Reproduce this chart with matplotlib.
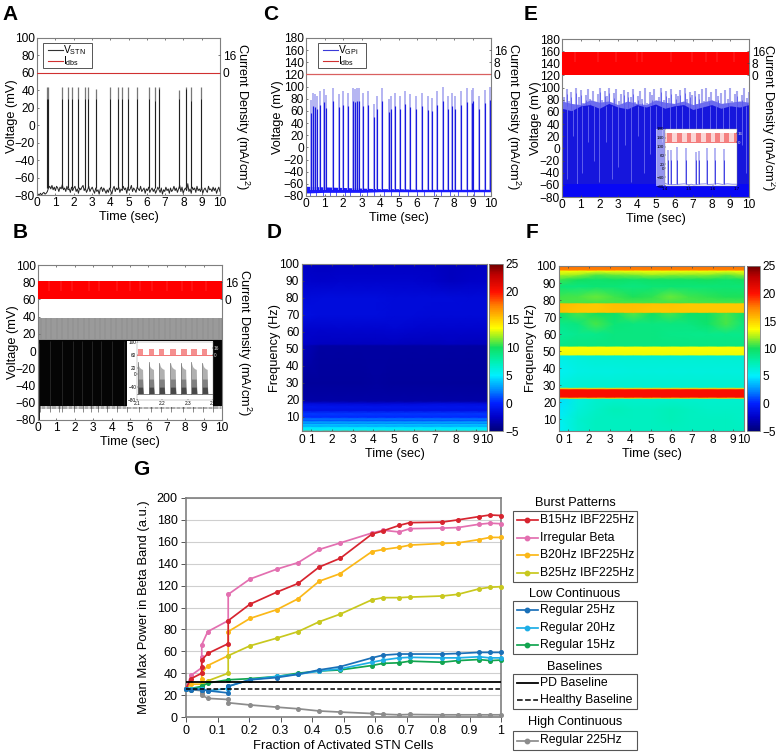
import numpy as np
import matplotlib
matplotlib.use("Agg")
import matplotlib.pyplot as plt
from matplotlib.colors import LinearSegmentedColormap
from matplotlib.lines import Line2D

plt.rcParams['font.family'] = ['Liberation Sans', 'DejaVu Sans']
plt.rcParams['mathtext.default'] = 'regular'

W, H = 776, 754

# ---------- panel A
a_spike_t = [.55, .58, 1.38, 1.67, 1.93, 2.24, 2.64, 2.78, 3.2, 4.0, 4.45, 4.67, 4.95, 5.49, 6.1, 6.44, 6.64, 7.78, 8.15, 8.4, 8.95]
a_spike_v = [44, 44, 44, 44, 44, 44, 44, 44, 42, 44, 44, 44, 44, 44, 44, 44, 44, 40, 44, 44, 44]
a_spike_core = [30, 30, 30, 30, 30, 30, 30, 30, 30, 30, 30, 30, 30, 30, 30, 28, 42, 30, 42, 28, 30]
a_base = [-80, -79, -80, -78, -80, -78, -77, -79, -78, -76, -72, -70, -73, -69, -74, -71, -75, -70, -72, -76, -71, -73, -68,
          -74, -72, -76, -70, -74, -73, -77, -71, -75, -72, -70, -76, -73, -78, -72, -74, -71, -69, -75, -72, -77, -74, -70,
          -76, -73, -71, -75, -78, -72, -76, -74, -79, -73, -71, -76, -72, -75, -78, -74, -77, -72, -75, -79, -73, -70, -76,
          -72, -74, -71, -77, -73, -75, -70, -74, -72, -78, -71, -75, -73, -69, -76, -72, -74, -77, -71, -73, -75, -70, -76,
          -74, -72, -78, -73, -75, -71, -77, -74, -72, -76, -73, -78, -75, -71, -74, -77, -72, -79, -74, -76, -71, -75, -73,
          -78, -72, -76, -74, -70, -75, -72, -77, -73, -69, -76, -71, -78, -74, -72, -75, -67, -76, -73, -78, -71, -74, -72,
          -77, -70, -75, -73, -76, -71, -78, -74, -72, -75, -77, -70, -74, -73, -76, -71, -75, -72, -78, -74, -71, -76]

# ---------- panel B
b_flick_t = [.65, 1.3, 1.9, 2.4, 2.95, 3.4, 4.0, 4.7, 5.6, 6.1, 6.65, 7.2, 7.9, 8.3, 8.9, 9.4]
b_low_t = [.1, .65, 1.15, 1.32, 1.95, 2.45, 2.9, 3.25, 3.75, 4.3, 4.85, 5.5, 6.15, 6.7, 7.25, 7.9, 8.4, 8.95, 9.5]
b_red_gap_t = [.62, 1.25, 1.85, 2.75, 3.3, 4.3, 5.0, 5.55, 6.2, 7.0, 7.8, 8.35, 9.15]
b_train_t = [i * .0667 for i in range(150)]
b_inset_burst_t = [2.103, 2.146, 2.188, 2.232, 2.273, 2.315, 2.358]
b_inset_top = [38, 37, 36, 35, 36, 37, 36]
b_burst_offs = [0, .002, .004, .007, .010, .013, .016, .019, .021]
b_burst_hi = [36, 30, 25, 21, 19, 17, 16, 15, -58]
b_burst_mid = [-15, -15, -15, -15, -15, -15, -15, -15, -58]
b_burst_dark = [-40, -40, -40, -40, -40, -40, -40, -40, -58]
b_inset_pulse_w = [.022, .021, .019, .023, .023, .020, .020]

# ---------- panel C
c_spike_t = [.25, .40, .49, .58, .76, .97, 1.06, 1.47, 1.78, 2.0, 2.28, 2.52, 2.64, 2.73, 2.88, 3.06, 3.33, 3.68, 3.86, 4.09, 4.5, 4.58,
             4.81, 5.08, 5.35, 5.62, 5.93, 6.25, 6.58, 6.83, 7.1, 7.42, 7.69, 7.87, 8.05, 8.38, 8.68, 8.95, 9.05, 9.35, 9.68, 9.95]
c_spike_v = [78, 90, 88, 85, 92, 96, 87, 98, 88, 92, 90, 98, 96, 98, 98, 90, 92, 72, 85, 98, 80, 85,
             90, 85, 93, 88, 85, 90, 84, 82, 92, 99, 85, 90, 85, 92, 97, 95, 98, 85, 95, 100]
c_band_t = [0, 1, 2, 3, 4, 5, 6, 7, 8, 9, 10]
c_band_lo = [-75, -74, -74, -74, -73, -73, -73, -73, -73, -73, -73]
c_band_hi = [-64, -65, -66, -67, -68, -68, -69, -69, -69, -69, -69]
c_floor_t = [.2, .55, .9, 1.3, 1.6, 2.1, 2.4, 2.9, 3.3, 3.7, 4.2, 4.6, 5.0, 5.5, 6.0, 6.4, 6.9, 7.3, 7.8, 8.2, 8.7, 9.1, 9.6]

# ---------- panel E
e_top = [92, 85, 97, 78, 93, 70, 99, 84, 96, 75, 88, 98, 82, 94, 72, 90, 100, 80, 95, 86, 99, 73, 91, 97, 78, 89, 96, 71, 93, 85, 98, 76,
         87, 95, 82, 99, 74, 92, 88, 97, 70, 85, 100, 79, 94, 83, 98, 72, 90, 86, 96, 75, 99, 81, 92, 88, 95, 73, 90, 97, 78, 100, 84,
         93, 76, 98, 87, 91, 72, 96, 82, 99, 78, 90, 95, 74, 88, 100, 83, 92]
e_mid_t = [0, .5, 1, 1.5, 2, 2.5, 3, 3.5, 4, 4.5, 5, 5.5, 6, 6.5, 7, 7.5, 8, 8.5, 9, 9.5, 10]
e_mid = [66, 62, 70, 72, 66, 74, 68, 65, 72, 68, 73, 66, 70, 72, 64, 68, 72, 66, 70, 68, 72]
e_fill = [78, 74, 72, 80, 76, 78, 72, 78, 74, 72, 80, 76, 74, 78, 72, 76, 80, 74, 76, 78, 76]
e_streak_t = [.25, .6, .8, 1.05, 1.4, 1.7, 2.0, 2.35, 2.7, 3.0, 3.35, 3.7, 4.05, 4.4, 4.7, 5.0, 5.35, 5.75, 6.1, 6.4, 6.8, 7.15, 7.5, 7.9, 8.25, 8.6, 8.95, 9.3, 9.6, 9.85]
e_streak_lo = [-50, 20, -58, -40, 10, -20, -55, 10, -50, -30, 5, -55, 20, -40, -10, -50, 10, -30, -55, 15, -45, 0, -50, -20, -55, 10, -35, -50, 5, -40]
e_flick_t = [.7, 1.9, 2.9, 4.0, 4.3, 5.85, 6.95, 7.7, 8.3, 9.2]
e_inset_spike_t = [1.414, 1.425, 1.448, 1.488, 1.529, 1.541, 1.573, 1.608, 1.647]
e_inset_spike_v = [85, 85, 100, 95, 75, 80, 95, 95, 90]
e_inset_base_t = [1.40, 1.41, 1.43, 1.46, 1.48, 1.50, 1.51, 1.52, 1.55, 1.57, 1.58, 1.60, 1.62, 1.64, 1.66, 1.68, 1.70]
e_inset_base = [-68, -72, -74, -72, -70, -74, -72, -75, -71, -70, -73, -72, -69, -73, -70, -72, -72]
e_inset_pulse_t = [1.408, 1.449, 1.490, 1.531, 1.572, 1.609, 1.647, 1.688]
e_inset_pulse_w = [.02, .02, .02, .02, .02, .02, .02, .012]

# ---------- spectrograms
spec_t = [.55, 1.45, 2.35, 3.25, 4.15, 5.05, 5.95, 6.85, 7.75, 8.65, 9.52]
d_f = [1.75, 2.0, 2.3, 4, 4.8, 5.6, 6.4, 7.2, 8, 9, 10, 12, 14, 16, 18, 19.5, 30, 52, 53, 62, 70, 80, 90, 100]
d_z = [[18] * 11, [18] * 11, [5.2] * 11, [4.8] * 11, [3.0] * 11, [4.2] * 11, [2.2] * 11, [3.2] * 11,
       [1.2] * 11, [2.0] * 11, [0.2] * 11, [0.6] * 11, [-1.2] * 11, [-0.8] * 11,
       [-1.6, -1.7, -1.8, -1.8, -1.9, -1.8, -1.8, -1.6, -1.5, -1.6, -1.7],
       [-3.5] * 11,
       [-3.9, -3.9, -3.9, -3.9, -3.8, -3.9, -3.9, -3.9, -3.9, -3.9, -3.9],
       [-2.8, -3.6, -3.6, -3.7, -3.7, -3.7, -3.7, -3.7, -3.7, -3.7, -3.7],
       [-2.4, -2.7, -2.7, -2.7, -2.7, -2.7, -2.8, -2.8, -2.7, -2.8, -2.8],
       [-2.2, -2.2, -2.1, -2.1, -2.1, -2.0, -2.1, -2.2, -2.2, -2.2, -2.2],
       [-1.3, -1.6, -1.5, -1.6, -1.6, -1.7, -1.7, -1.8, -1.8, -1.8, -1.8],
       [-1.7, -1.6, -1.6, -1.5, -1.6, -1.7, -1.7, -1.7, -1.7, -1.8, -1.8],
       [-2.2, -2.4, -2.2, -2.3, -2.2, -2.3, -2.3, -2.4, -2.7, -2.5, -2.4],
       [-2.5, -2.7, -2.6, -2.6, -2.6, -2.6, -2.6, -2.6, -2.8, -2.7, -2.6]]

f_f = [3.15, 10, 16, 22, 22.6, 23.2, 27.6, 28.2, 29, 38, 47.4, 48, 52.6, 53.2, 60, 66, 72.4, 73, 78, 78.6, 82, 88, 92, 95, 97.3, 97.8, 100]
f_z = [[5.2, 6.4, 7, 7, 7, 7, 7, 7, 7, 7, 7],
       [5.4, 6.5, 7, 7, 7, 7, 7.2, 7, 7, 7, 6.8],
       [4.8, 6.2, 6.8, 7.2, 7, 7, 7.2, 7, 6.8, 6.8, 6.8],
       [4.5, 6, 6.5, 6.6, 6.5, 6.5, 6.5, 6.5, 6.5, 6.5, 6.5],
       [15] * 11,
       [20.3] * 11, [20.3] * 11,
       [15] * 11,
       [6.2, 6.4, 6.6, 6.6, 6.6, 6.6, 6.6, 6.6, 6.6, 6.6, 6.6],
       [5.4, 5.8, 6, 6, 6.1, 6.1, 6.1, 6.1, 6.1, 6.1, 6.1],
       [5.8, 6.2, 6.4, 6.4, 6.4, 6.4, 6.4, 6.4, 6.4, 6.4, 6.4],
       [13.2] * 11, [13.4] * 11,
       [8.8, 9, 9, 9, 9, 9, 9, 9, 9, 9, 9],
       [8.2, 8.5, 8.6, 9, 9, 9, 8.8, 8.6, 8.6, 8.6, 8.6],
       [8.6, 9, 10.8, 9.2, 9, 9, 9, 9, 9.6, 10.8, 9],
       [9.8, 10.8, 10, 9.8, 11, 10, 10.8, 9.8, 9.8, 10.8, 9.8],
       [15.6, 15.2, 15.2, 15.4, 15.4, 15.2, 15.2, 15.2, 15.2, 15.2, 15.2],
       [15.8, 15.4, 15.2, 15.6, 15.6, 15.4, 15.4, 15.2, 15.2, 15.2, 15.2],
       [10.8] * 11,
       [10.6, 10.8, 11.2, 10.6, 10.2, 10.4, 11.2, 10.6, 10.4, 10.2, 10.2],
       [9.2, 9, 9.4, 9.2, 9, 9.2, 9.4, 9.2, 9.2, 9.4, 9.2],
       [10.6, 10, 9.6, 9.8, 9.6, 9.8, 9.8, 9.8, 10, 9.6, 10],
       [12.4, 12, 11, 11.4, 11.6, 12, 11.8, 11.8, 11.8, 11.2, 12],
       [13.4] * 11,
       [17.4] * 11, [17.8] * 11]

cmap_vals = [-5, -2.5, 0, 2.5, 5, 7.5, 10, 12, 13.5, 15, 17.5, 20, 23, 25]
cmap_cols = ['#00007a', '#0000c8', '#0020ff', '#0090ff', '#00f0ff', '#00f0b0', '#10e060',
             '#a0f020', '#ffff00', '#ffd000', '#ff8000', '#ff1000', '#c00000', '#700000']

# ---------- panel G
g_frac = [0, .016, .05, .05, .05, .069, .134, .134, .203, .288, .356, .423, .49, .59, .626, .677, .711, .813, .863, .93, .965, 1]
g_b15 = [26, 35, 40, 46, 52, 58, 67, 88, 103, 114, 122, 137, 145, 167, 170, 175, 177.5, 178, 180, 183, 184.5, 184]
g_irr = [26, 38, 45, 55, 66, 78, 88, 112, 126, 135, 141, 153, 159, 168, 170.5, 169, 172, 172.5, 173, 176, 177, 176.5]
g_b20 = [26, 30, 30, 35, 40, 47, 56, 78, 90, 98, 108, 124, 131, 151, 153, 155, 157, 158.5, 159, 162, 164, 164]
g_b25 = [26, 25, 27, 28, 30, 33, 40, 56, 65, 72, 78, 87, 94, 107, 109, 109, 109.5, 110.5, 112, 117, 118.5, 119]
g_r25 = [26, 25, 25, 25, 25, 24, 22, 28, 34, 36, 39, 43, 46, 54, 56.5, 57.5, 57.5, 57.5, 58, 59, 59, 59]
g_r20 = [26, 26, 26, 26, 26, 24, 26, 28, 34, 37, 39, 42, 44, 50, 52, 54, 54.5, 54, 54, 55, 54, 54]
g_r15 = [26, 26, 28, 28, 28, 31, 34, 34, 35, 37, 40, 42, 43, 47, 49, 49.5, 51, 50, 51.5, 52.5, 51.5, 52]
g_r225 = [26, 25, 24, 22, 20, 17, 16, 13, 11, 9, 7.5, 5.5, 4.5, 3.2, 2.5, 2, 2.3, 2, 2, 2, 2, 2]
g_pd = 32
g_healthy = 26

time_ticks = list(range(0, 11))
RED = '#ff0000'
BLUE = '#1a1ae0'
LBLUE = '#a8a8f0'
GRAY = '#7f7f7f'

fig = plt.figure(figsize=(W / 100, H / 100), dpi=100)


def ax_px(l, t, r, b):
    return fig.add_axes([l / W, 1 - b / H, (r - l) / W, (b - t) / H])


def style(ax, ymin, ymax, ystep, xt=time_ticks, fs=8.6, tl=1.5):
    ax.set_xlim(0, 10)
    ax.set_ylim(ymin, ymax)
    ax.set_xticks(xt)
    ax.set_yticks(range(ymin, ymax + 1, ystep))
    ax.tick_params(direction='in', length=tl, width=.5, labelsize=fs, pad=1.5, top=True, color='#444444')
    for s in ax.spines.values():
        s.set_color(GRAY)
        s.set_linewidth(.8)


def current_axis(ax, ylim, ticks, pad=11, fs=8.6):
    tw = ax.twinx()
    tw.set_ylim(*ylim)
    tw.set_yticks(ticks)
    tw.tick_params(direction='in', length=1.5, width=.5, labelsize=fs, pad=2, color='#444444')
    for s in tw.spines.values():
        s.set_visible(False)
    tw.set_ylabel('Current Density (mA/cm$^2$)', rotation=270, fontsize=9.2, labelpad=pad)
    return tw


def labels(ax, pad):
    ax.set_xlabel('Time (sec)', fontsize=9.2, labelpad=1.5)
    ax.set_ylabel('Voltage (mV)', fontsize=9.2, labelpad=pad)


def trace_legend(name, col, l, t, r, b):
    fig.add_artist(plt.Rectangle((l / W, 1 - b / H), (r - l) / W, (b - t) / H, transform=fig.transFigure,
                                 fc='white', ec='#555555', lw=.7, zorder=3))
    for y, c, txt in [(t + 7, col, name), (t + 18, '#d03030', '$I_{dbs}$')]:
        fig.add_artist(Line2D([(l + 5) / W, (l + 20) / W], [1 - y / H, 1 - y / H], transform=fig.transFigure,
                              color=c, lw=.8, zorder=4))
        fig.text((l + 20) / W, 1 - y / H, txt, fontsize=7.4, va='center', ha='left', zorder=4)


# A
ax = ax_px(37, 38, 220, 195)
style(ax, -80, 100, 20)
ax.plot(np.linspace(0, 10, len(a_base)), a_base, color='#222222', lw=.7)
ax.vlines(a_spike_t, -72, a_spike_v, color='#777777', lw=.9)
ax.vlines(a_spike_t, -72, a_spike_core, color='#111111', lw=.6)
labels(ax, -2.5)
trace_legend('$V_{STN}$', '#333333', 43, 43, 92, 68)
tw = current_axis(ax, (-112, 32), [0, 16])
tw.plot([0, 10], [0, 0], color='#d03030', lw=.8)

# B
ax = ax_px(38, 265, 222, 420)
style(ax, -80, 100, 20)
ax.fill_between([0, 10], 13, 38, color='#8c8c8c', lw=0)
ax.vlines(b_train_t, 14, 39, color='#b4b4b4', lw=.3)
ax.fill_between([0, 10], -64, 13, color='#050505', lw=0, zorder=2.5)
ax.vlines(b_flick_t, -62, 12, color='#3a3a3a', lw=.4, zorder=3)
ax.vlines(b_low_t, -71, -62, color='#333333', lw=.4)
ax.vlines(b_train_t, -67, -63, color='#222222', lw=.3)
ax.vlines([.03], -80, 10, color='#222222', lw=.7, zorder=3)
labels(ax, -2.5)
tw = current_axis(ax, (-112, 32), [0, 16])
tw.fill_between([0, 10], 0, 17.6, color=RED, lw=0)
tw.vlines(b_red_gap_t, 8, 17.6, color='#ff5a5a', lw=.3)
bg = ax_px(127, 341, 213, 407)
bg.set_xticks([])
bg.set_yticks([])
for s in bg.spines.values():
    s.set_visible(False)
ins = ax_px(137, 342, 213, 400)
ins.set_xlim(2.1, 2.4)
ins.set_ylim(-80, 100)
ins.set_xticks([2.1, 2.2, 2.3, 2.4])
ins.set_yticks([-80, -40, 0, 20, 60, 100])
ins.tick_params(direction='in', length=.8, width=.3, labelsize=3.4, pad=.6)
for st, top, pw in zip(b_inset_burst_t, b_inset_top, b_inset_pulse_w):
    xs = [st + o for o in b_burst_offs]
    ins.fill_between(xs, -60, b_burst_hi, color='#b0b0b0', lw=0)
    ins.fill_between(xs, -60, b_burst_mid, color='#808080', lw=0)
    ins.fill_between(xs, -60, b_burst_dark, color='#484848', lw=0)
    ins.plot([st, st], [-60, top], color='#666666', lw=.5)
    ins.fill_between([st, st + pw], 60, 78, color='#f58f8f', lw=0)
ins.plot([2.1, 2.4], [-62, -62], color='#555555', lw=.5)
ins.plot([2.1, 2.4], [60, 60], color='#f06060', lw=.6)
for s in ins.spines.values():
    s.set_linewidth(.3)
    s.set_color('#888888')
itw = ins.twinx()
itw.set_ylim(-112, 32)
itw.set_yticks([0, 16])
itw.tick_params(direction='in', length=.8, width=.3, labelsize=3.4, pad=.6, labelcolor='#dddddd')
for s in itw.spines.values():
    s.set_visible(False)

# C
ax = ax_px(306, 38, 491, 196)
style(ax, -80, 180, 20)
ax.fill_between(c_band_t, c_band_lo, c_band_hi, color='#1a1aff', lw=0)
ax.vlines(c_spike_t, -70, c_spike_v, color=LBLUE, lw=1.2)
ax.vlines(c_spike_t, -70, [v - 22 for v in c_spike_v], color=BLUE, lw=.85)
ax.vlines(c_floor_t, -80, -72, color='#1a1aff', lw=.5)
labels(ax, -.5)
trace_legend('$V_{GPi}$', '#3a3ad8', 318, 43, 366, 68)
tw = current_axis(ax, (-80, 24), [0, 8, 16])
tw.plot([0, 10], [0, 0], color='#d96060', lw=.9)

# E
ax = ax_px(562, 39, 749, 197)
style(ax, -80, 180, 20)
ax.vlines(np.linspace(0, 10, len(e_top)), 50, e_top, color=LBLUE, lw=1.5, zorder=1)
ax.fill_between(e_mid_t, 40, e_fill, color='#6c6cee', lw=0, zorder=1.1)
ax.vlines(np.linspace(0, 10, len(e_top))[::2], 50, [v - 8 for v in e_top[::2]], color='#5a5aee', lw=.6, zorder=1.2)
ax.fill_between(e_mid_t, -60, e_mid, color='#1616dc', lw=0, zorder=1.3)
ax.vlines(e_streak_t, e_streak_lo, 70, color='#6a6af0', lw=.6, zorder=1.4)
ax.fill_between([0, 10], -80, -58, color='#0808f5', lw=0, zorder=1.5)
labels(ax, -1.5)
tw = current_axis(ax, (-80, 24), [0, 8, 16], pad=8.5)
tw.fill_between([0, 10], 0, 15.2, color=RED, lw=0)
tw.vlines(e_flick_t, 9, 15.2, color='#ff5a5a', lw=.3)
bg = ax_px(656, 129, 665, 186)
bg.patch.set_alpha(.55)
bg.set_xticks([])
bg.set_yticks([])
for s in bg.spines.values():
    s.set_visible(False)
ins = ax_px(665, 129, 737, 186)
ins.set_xlim(1.4, 1.7)
ins.set_ylim(-80, 180)
ins.set_xticks([1.4, 1.5, 1.6, 1.7])
ins.set_yticks([-80, -40, 0, 20, 60, 100, 140, 180])
ins.tick_params(direction='in', length=.8, width=.3, labelsize=3.2, pad=.6)
ins.plot(e_inset_base_t, e_inset_base, color='#8f8fee', lw=.7)
ins.vlines(e_inset_spike_t, -72, e_inset_spike_v, color='#a0a0f0', lw=1.1)
ins.vlines(e_inset_spike_t, -72, 40, color='#3030e0', lw=.6)
ins.fill_between([1.4, 1.7], 120, 160, color='#fbd6d6', lw=0)
for st, pw in zip(e_inset_pulse_t, e_inset_pulse_w):
    ins.fill_between([st, st + pw], 120, 160, color='#f58080', lw=0)
ins.plot([1.4, 1.7], [120, 120], color='#f06060', lw=.6)
for s in ins.spines.values():
    s.set_linewidth(.3)
    s.set_color('#888888')
itw = ins.twinx()
itw.set_ylim(-80, 24)
itw.set_yticks([0, 16])
itw.tick_params(direction='in', length=.8, width=.3, labelsize=3.2, pad=.6, labelcolor='#dddddd')
for s in itw.spines.values():
    s.set_visible(False)

# D and F
spec_cmap = LinearSegmentedColormap.from_list('spec', [((v + 5) / 30, c) for v, c in zip(cmap_vals, cmap_cols)], N=256)
spec_ticks = [.55, 1, 2, 3, 4, 5, 6, 7, 8, 9, 9.52]
for box, cbox, fr, zz, ymin, pad in [((302, 264, 487, 431), (489, 264, 503, 431), d_f, d_z, 1.75, -1),
                                     ((559, 266, 744, 431), (747, 266, 760, 431), f_f, f_z, 3.15, -.5)]:
    ax = ax_px(*box)
    m = ax.pcolormesh(spec_t, fr, np.array(zz), cmap=spec_cmap, vmin=-5, vmax=25, shading='gouraud', rasterized=True)
    ax.set_xlim(.55, 9.52)
    ax.set_ylim(ymin, 100)
    ax.set_xticks(spec_ticks, [str(i) for i in time_ticks])
    ax.set_yticks(range(10, 101, 10))
    ax.tick_params(direction='in', length=1.5, width=.5, labelsize=8.6, pad=2, top=True, color='#444444')
    for s in ax.spines.values():
        s.set_color(GRAY)
        s.set_linewidth(.8)
    ax.set_xlabel('Time (sec)', fontsize=9.2, labelpad=1.5)
    ax.set_ylabel('Frequency (Hz)', fontsize=9.2, labelpad=pad)
    cax = ax_px(*cbox)
    cb = fig.colorbar(m, cax=cax, ticks=[-5, 0, 5, 10, 15, 20, 25])
    cb.ax.tick_params(length=0, labelsize=8.6, pad=2)
    cb.outline.set_edgecolor(GRAY)
    cb.outline.set_linewidth(.6)

# G
ax = ax_px(186, 498, 501, 717)
series = [('B15Hz IBF225Hz', g_b15, '#d7242f', 5), ('Irregular Beta', g_irr, '#e36fb0', 4),
          ('B20Hz IBF225Hz', g_b20, '#fbb818', 4), ('B25Hz IBF225Hz', g_b25, '#c8c81e', 4),
          ('Regular 25Hz', g_r25, '#1a70b8', 7), ('Regular 20Hz', g_r20, '#1eaee6', 6),
          ('Regular 15Hz', g_r15, '#12a550', 5), ('Regular 225Hz', g_r225, '#8c8c8c', 4)]
handles = {}
for name, vals, col, z in series:
    l, = ax.plot(g_frac, vals, color=col, lw=1.25, marker='o', ms=2.6, zorder=z, clip_on=False)
    handles[name] = l
handles['PD Baseline'] = ax.axhline(g_pd, color='k', lw=1.3, zorder=8)
handles['Healthy Baseline'] = ax.axhline(g_healthy, color='k', lw=1.1, ls=(0, (3, 1.5)), zorder=8)
ax.set_xlim(0, 1)
ax.set_ylim(0, 200)
ax.set_xticks([i / 10 for i in range(11)], ['0', '0.1', '0.2', '0.3', '0.4', '0.5', '0.6', '0.7', '0.8', '0.9', '1'])
ax.set_yticks(range(0, 201, 20))
ax.grid(axis='y', color='#cfcfcf', lw=.8)
ax.set_axisbelow(True)
ax.tick_params(direction='out', length=3.5, width=.7, color='#555555', labelsize=9, pad=2.5)
for s in ax.spines.values():
    s.set_color(GRAY)
    s.set_linewidth(1.2)
ax.set_xlabel('Fraction of Activated STN Cells', fontsize=9.4, labelpad=2)
ax.set_ylabel('Mean Max Power in Beta Band (a.u.)', fontsize=9.4, labelpad=4.5)

groups = [('Burst Patterns', ['B15Hz IBF225Hz', 'Irregular Beta', 'B20Hz IBF225Hz', 'B25Hz IBF225Hz'], 511, 582, 503),
          ('Low Continuous', ['Regular 25Hz', 'Regular 20Hz', 'Regular 15Hz'], 601, 654, 594),
          ('Baselines', ['PD Baseline', 'Healthy Baseline'], 674, 709, 667),
          ('High Continuous', ['Regular 225Hz'], 731, 750, 722)]
for title, names, top, bot, ty in groups:
    fig.text(575 / W, 1 - ty / H, title, ha='center', va='center', fontsize=9.2)
    fig.add_artist(plt.Rectangle((513 / W, 1 - bot / H), 124 / W, (bot - top) / H, transform=fig.transFigure,
                                 fill=False, ec='#555555', lw=.8))
    rows = (bot - top) / len(names)
    for i, n in enumerate(names):
        y = 1 - (top + rows * (i + .5)) / H
        src = handles[n]
        has_marker = src.get_marker() == 'o'
        fig.add_artist(Line2D([517 / W, 527 / W, 538 / W], [y, y, y], transform=fig.transFigure, color=src.get_color(),
                              lw=src.get_linewidth(), ls=src.get_linestyle(), marker='o' if has_marker else None,
                              ms=3.2, markevery=[1]))
        fig.text(540 / W, y, n, ha='left', va='center', fontsize=8.8)

# panel letters
for s, x, y in [('A', 2, 15), ('B', 13, 232), ('C', 263, 15), ('D', 267, 232), ('E', 524, 15), ('F', 526, 232), ('G', 133, 470)]:
    fig.text(x / W, 1 - y / H, s, fontsize=15, fontweight='bold', ha='left', va='center')

fig.savefig('out.png', dpi=100)
